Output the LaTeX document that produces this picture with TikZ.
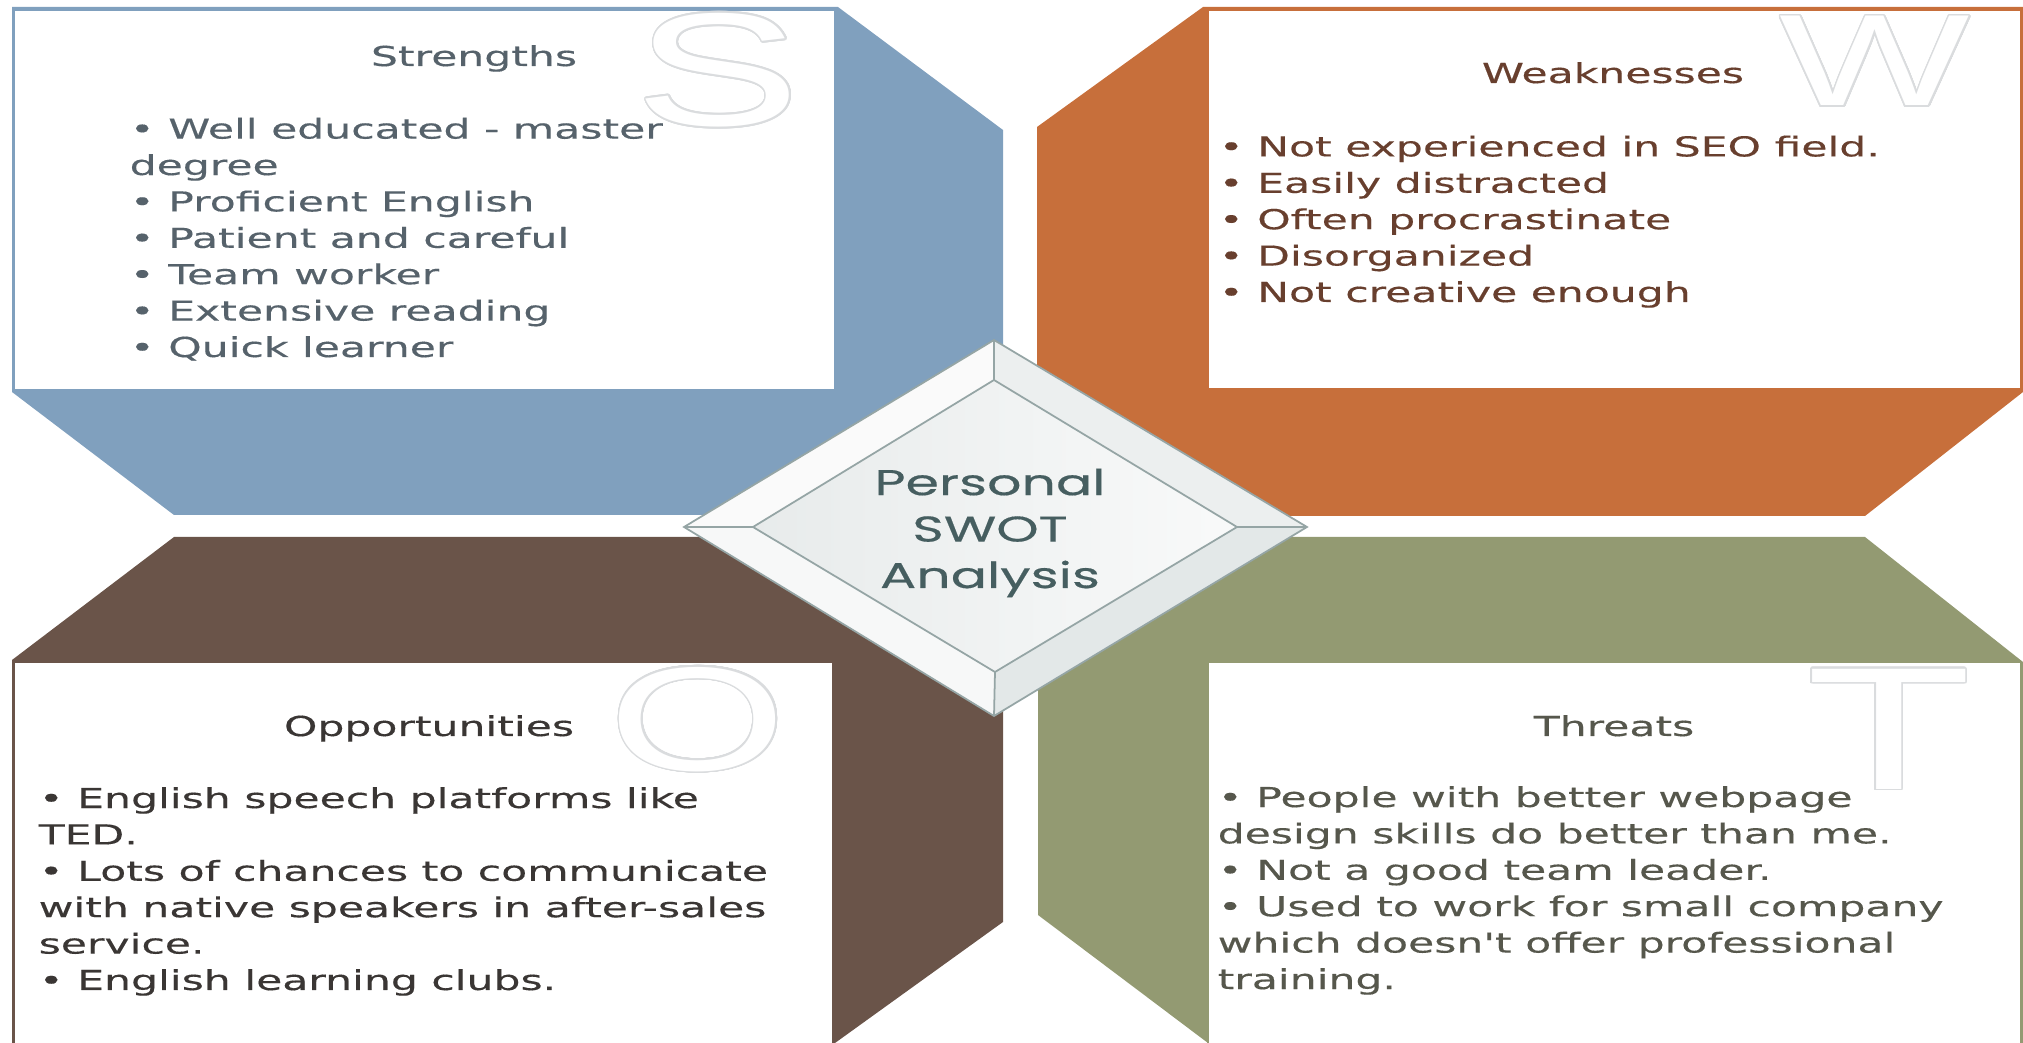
\documentclass[tikz,border=0pt]{standalone}
\usepackage{fontspec}
\usepackage{contour}
\newfontfamily\swotfont[FakeStretch=1.55, FakeBold=0.3]{DejaVu Sans}
\newfontfamily\bigfont[FakeStretch=1.55]{Liberation Sans}
\newfontfamily\centerfont[FakeStretch=1.5, FakeBold=0.4]{Poppins}
\definecolor{sblue}{HTML}{80A0BE}
\definecolor{worange}{HTML}{C76F3B}
\definecolor{obrown}{HTML}{6A5449}
\definecolor{tolive}{HTML}{939A72}
\definecolor{stext}{HTML}{56626B}
\definecolor{wtext}{HTML}{683F2E}
\definecolor{otext}{HTML}{3A3634}
\definecolor{ttext}{HTML}{56574C}
\definecolor{ctext}{HTML}{465E60}
\definecolor{letterline}{HTML}{DADCDE}
\definecolor{rimline}{HTML}{95A5A5}
\contourlength{0.45pt}
\contournumber{32}
\tikzset{
  panel/.style={draw=#1, line width=0.6pt, fill=white},
  itemtext/.style={font=\swotfont\fontsize{7.8}{10.35}\selectfont, align=left, anchor=base west, inner sep=0pt},
  titletext/.style={font=\swotfont\fontsize{7.8}{10.35}\selectfont, anchor=base, inner sep=0pt},
  bigletter/.style={font=\bigfont\fontsize{#1}{#1}\selectfont, text=white, inner sep=0pt},
  rim/.style={draw=rimline, line width=0.5pt}
}
\begin{document}
\begin{tikzpicture}[x=0.01cm, y=-0.01cm]
\useasboundingbox (0,0) rectangle (2023,1043);
\fill[sblue] (12,7) -- (838,7) -- (1003,130) -- (1003,515) -- (174,515) -- (12,392) -- cycle;
\fill[worange] (1203,7) -- (2023,7) -- (2023,392) -- (1865,516) -- (1037,516) -- (1037,127) -- cycle;
\fill[obrown] (12,660) -- (174,537) -- (1003,537) -- (1003,922) -- (835,1043) -- (12,1043) -- cycle;
\fill[tolive] (1038,537) -- (1865,537) -- (2023,662) -- (2023,1043) -- (1208,1043) -- (1038,915) -- cycle;
\draw[panel=sblue] (14,10) rectangle (835,390);
\draw[panel=worange] (1208,10) rectangle (2021,389);
\draw[panel=obrown] (14,662) rectangle (833,1045);
\draw[panel=tolive] (1208,662) rectangle (2021,1045);

\node[bigletter=45.7] (bigS) at (718,71) {\contour{letterline}{S}};
\node[bigletter=37] (bigW) at (1875,62) {\contour{letterline}{W}};
\node[bigletter=42] (bigO) at (698,720) {\contour{letterline}{O}};
\node[bigletter=49.7] (bigT) at (1889,730) {\contour{letterline}{T}};

\node[titletext, text=stext] (stitle) at (474,66) {Strengths};
\node[itemtext, text=stext] (slist) at (129,357) {• Well educated - master\\degree\\• Proficient English\\• Patient and careful\\• Team worker\\• Extensive reading\\• Quick learner};
\node[titletext, text=wtext] (wtitle) at (1613,83) {Weaknesses};
\node[itemtext, text=wtext] (wlist) at (1218,302) {• Not experienced in SEO field.\\• Easily distracted\\• Often procrastinate\\• Disorganized\\• Not creative enough};
\node[titletext, text=otext] (otitle) at (429,736) {Opportunities};
\node[itemtext, text=otext] (olist) at (38,990) {• English speech platforms like\\TED.\\• Lots of chances to communicate\\with native speakers in after-sales\\service.\\• English learning clubs.};
\node[titletext, text=ttext] (ttitle) at (1614,736) {Threats};
\node[itemtext, text=ttext] (tlist) at (1217,989) {• People with better webpage\\design skills do better than me.\\• Not a good team leader.\\• Used to work for small company\\which doesn't offer professional\\training.};

\coordinate (oL) at (684,527);
\coordinate (oT) at (994,340);
\coordinate (oR) at (1307,527);
\coordinate (oB) at (994,716);
\coordinate (iL) at (753,527);
\coordinate (iT) at (994,380);
\coordinate (iR) at (1237,527);
\coordinate (iB) at (995,672);
\fill[white!50!rimline!10] (oL) -- (oT) -- (iT) -- (iL) -- cycle;
\fill[rimline!18] (oT) -- (oR) -- (iR) -- (iT) -- cycle;
\fill[rimline!26] (oR) -- (oB) -- (iB) -- (iR) -- cycle;
\fill[rimline!8] (oB) -- (oL) -- (iL) -- (iB) -- cycle;
\shade[left color=rimline!22, right color=rimline!6] (iL) -- (iT) -- (iR) -- (iB) -- cycle;
\draw[rim] (oL) -- (oT) -- (oR) -- (oB) -- cycle;
\draw[rim] (iL) -- (iT) -- (iR) -- (iB) -- cycle;
\foreach \c in {L,T,R,B} \draw[rim] (o\c) -- (i\c);
\node[font=\centerfont\fontsize{10.2}{13.2}\selectfont, text=ctext, align=center, anchor=base, inner sep=0pt] (ctr) at (990,588) {Personal\\SWOT\\Analysis};
\end{tikzpicture}
\end{document}
